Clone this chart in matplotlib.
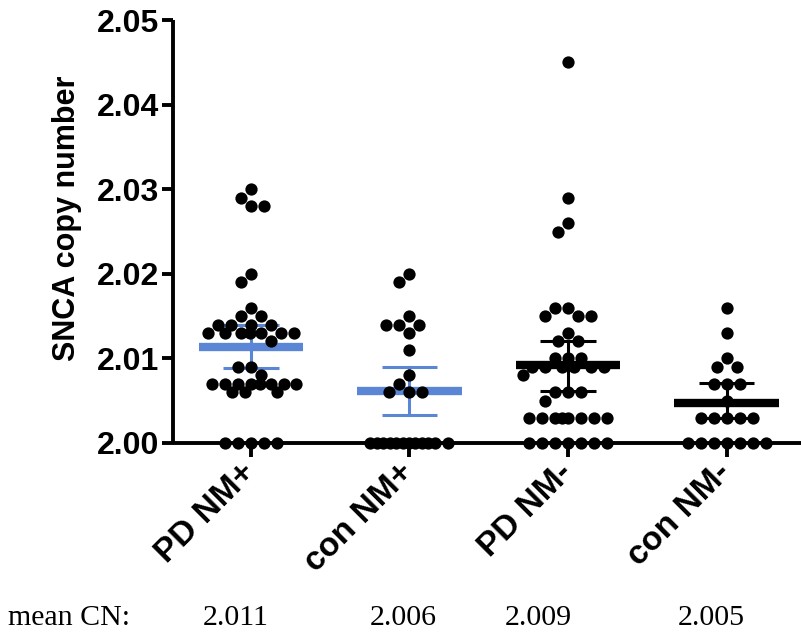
import numpy as np
import matplotlib
matplotlib.use('Agg')
import matplotlib.pyplot as plt

# ---------------- data ----------------
categories = ['PD NM+', 'con NM+', 'PD NM-', 'con NM-']

pd_nm_plus = ([2.030, 2.029, 2.028, 2.028, 2.020, 2.019, 2.016, 2.015, 2.015]
              + [2.014] * 4 + [2.013] * 7 + [2.012, 2.009, 2.009, 2.008]
              + [2.007] * 8 + [2.006] * 3 + [2.000] * 5)
con_nm_plus = ([2.020, 2.019, 2.015, 2.014, 2.014, 2.014, 2.013, 2.011,
                2.008, 2.007, 2.006, 2.006, 2.006] + [2.000] * 12)
pd_nm_minus = ([2.045, 2.029, 2.026, 2.025, 2.016, 2.016, 2.015, 2.015, 2.015,
                2.013, 2.012, 2.012, 2.010, 2.010, 2.010] + [2.009] * 6
               + [2.008, 2.006, 2.006, 2.006, 2.005] + [2.003] * 8 + [2.000] * 7)
con_nm_minus = ([2.016, 2.013, 2.010, 2.009, 2.009, 2.007, 2.007, 2.007, 2.005]
                + [2.003] * 5 + [2.000] * 7)
groups = [pd_nm_plus, con_nm_plus, pd_nm_minus, con_nm_minus]

means = [2.0114, 2.0061, 2.0092, 2.0047]
ci_low = [2.0089, 2.0033, 2.0061, 2.0030]
ci_high = [2.0139, 2.0090, 2.0120, 2.0071]

mean_labels = ['2.011', '2.006', '2.009', '2.005']
yticks = [2.00, 2.01, 2.02, 2.03, 2.04, 2.05]
ytick_labels = ['2.00', '2.01', '2.02', '2.03', '2.04', '2.05']

BLUE = '#5B86D6'
bar_colors = [BLUE, BLUE, 'black', 'black']

# ---------------- figure ----------------
W, H = 801, 634
fig = plt.figure(figsize=(W / 100, H / 100), dpi=100)
ax = fig.add_axes([173 / W, 1 - 443 / H, (W - 173) / W, (443 - 20) / H])
ax.set_xlim(-0.492, 3.47)
ax.set_ylim(2.0, 2.05)

for s in ['top', 'right']:
    ax.spines[s].set_visible(False)
for s in ['left', 'bottom']:
    ax.spines[s].set_linewidth(2.8)
    ax.spines[s].set_capstyle('butt')

ax.set_yticks(yticks)
ax.set_yticklabels(ytick_labels, fontsize=23, fontweight='bold', family='Liberation Sans')
ax.tick_params(axis='y', length=8, width=2.8, pad=2, direction='out')

ax.set_xticks(range(len(categories)))
ax.set_xticklabels(categories, fontsize=24, fontweight='bold', family='Liberation Sans',
                   rotation=45, ha='right', va='center', rotation_mode='anchor')
ax.tick_params(axis='x', length=10, width=2.8, pad=8, direction='out')

ax.set_ylabel('SNCA copy number', fontsize=22, fontweight='bold', family='Liberation Sans')
ax.yaxis.label.set_va('center')
ax.yaxis.set_label_coords((67 - 173) / (W - 173), (443 - 218) / (443 - 20))

# ---------------- beeswarm ----------------
fig.canvas.draw()
trans = ax.transData
x_px_per_unit = trans.transform((1, 2.0))[0] - trans.transform((0, 2.0))[0]


def swarm_offsets(vals, d=12.5, maxhalf=45.0):
    ys = np.array([trans.transform((0, v))[1] for v in vals])
    cands = np.arange(-maxhalf, maxhalf + 0.5, 1.0)
    cands = cands[np.lexsort((cands, np.abs(cands)))]
    px, py, out = [], [], []
    for y in ys:
        if not px:
            x = 0.0
        else:
            ax_ = np.array(px)
            ay_ = np.array(py)
            dist = np.sqrt((cands[:, None] - ax_[None, :]) ** 2
                           + (y - ay_[None, :]) ** 2).min(axis=1)
            ok = np.where(dist >= d)[0]
            x = cands[ok[0]] if len(ok) else cands[np.argmax(dist)]
        px.append(x)
        py.append(y)
        out.append(x)
    return np.array(out) / x_px_per_unit


for i, vals in enumerate(groups):
    offs = swarm_offsets(vals)
    ax.scatter(i + offs, vals, s=78, color='black', linewidths=0, zorder=5, clip_on=False)

    c = bar_colors[i]
    ax.plot([i - 0.33, i + 0.33], [means[i], means[i]], color=c, lw=6,
            solid_capstyle='butt', zorder=3)
    ax.plot([i, i], [ci_low[i], ci_high[i]], color=c, lw=2.2, zorder=3)
    for v in (ci_low[i], ci_high[i]):
        ax.plot([i - 0.174, i + 0.174], [v, v], color=c, lw=2.2,
                solid_capstyle='butt', zorder=3)

# ---------------- bottom text ----------------
fig.text(8 / W, 1 - 625 / H, 'mean CN:', fontsize=21.5, family='Liberation Serif',
         ha='left', va='baseline')
for xpx, lab in zip([236, 403, 538, 711], mean_labels):
    fig.text(xpx / W, 1 - 625 / H, lab, fontsize=21.5, family='Liberation Serif',
             ha='center', va='baseline')

fig.savefig('out.png', dpi=100)
